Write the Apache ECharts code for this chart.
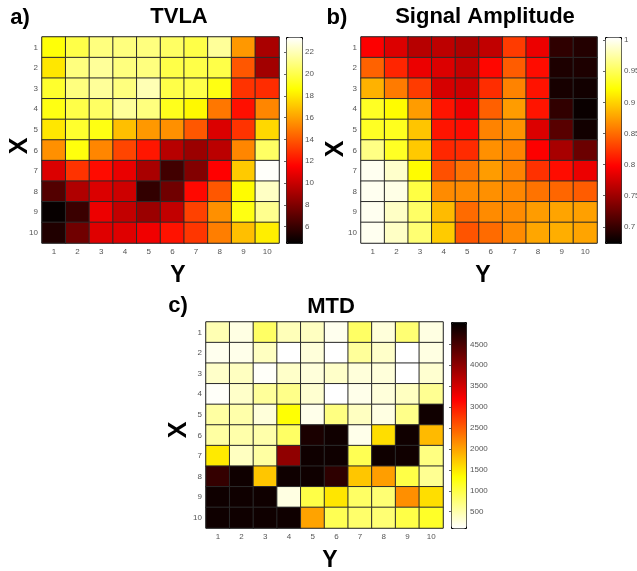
<!DOCTYPE html>
<html><head><meta charset="utf-8">
<script src="https://cdn.jsdelivr.net/npm/echarts@6/dist/echarts.min.js"></script>
<style>html,body{margin:0;padding:0;background:#fff}#c{width:637px;height:571px}</style>
</head><body><div id="c"></div>
<script>
const cats = ['1','2','3','4','5','6','7','8','9','10'];

const tvla = [
  [18.8, 20.0, 21.0, 21.0, 21.0, 20.5, 20.0, 21.5, 15.8, 9.2],
  [18.0, 21.0, 21.5, 21.0, 21.0, 20.0, 20.0, 20.0, 14.0, 9.0],
  [19.5, 21.0, 21.5, 21.0, 22.0, 20.0, 20.0, 19.0, 13.0, 12.8],
  [19.0, 20.0, 20.5, 21.5, 21.0, 19.2, 18.5, 14.9, 12.0, 15.3],
  [18.0, 19.5, 19.0, 16.9, 15.8, 15.6, 14.0, 10.6, 13.0, 17.6],
  [15.6, 18.9, 15.3, 13.5, 12.2, 9.6, 8.8, 9.7, 15.3, 20.5],
  [10.6, 13.0, 11.9, 11.0, 9.2, 6.3, 8.1, 11.6, 17.2, 23.3],
  [6.8, 9.4, 10.6, 10.2, 5.9, 7.6, 11.8, 14.0, 18.6, 22.3],
  [4.7, 6.1, 11.1, 9.9, 8.8, 9.9, 13.4, 15.6, 19.0, 21.3],
  [5.4, 7.6, 10.7, 10.7, 11.2, 12.1, 13.1, 15.1, 16.9, 18.2]
];

const amp = [
  [0.797, 0.781, 0.763, 0.766, 0.759, 0.768, 0.827, 0.789, 0.697, 0.691],
  [0.846, 0.816, 0.789, 0.781, 0.770, 0.801, 0.843, 0.804, 0.688, 0.688],
  [0.885, 0.858, 0.827, 0.778, 0.775, 0.820, 0.862, 0.807, 0.685, 0.683],
  [0.934, 0.921, 0.874, 0.808, 0.790, 0.845, 0.874, 0.808, 0.698, 0.679],
  [0.934, 0.932, 0.894, 0.808, 0.804, 0.862, 0.869, 0.781, 0.717, 0.683],
  [0.965, 0.934, 0.896, 0.817, 0.819, 0.868, 0.862, 0.797, 0.756, 0.726],
  [1.000, 0.988, 0.921, 0.837, 0.854, 0.874, 0.862, 0.822, 0.804, 0.789],
  [1.000, 0.997, 0.944, 0.866, 0.866, 0.868, 0.864, 0.854, 0.848, 0.843],
  [1.000, 0.986, 0.955, 0.889, 0.850, 0.866, 0.866, 0.874, 0.878, 0.876],
  [1.000, 0.986, 0.959, 0.897, 0.839, 0.850, 0.866, 0.879, 0.883, 0.878]
];

const mtd = [
  [480, 247, 860, 450, 410, 190, 860, 290, 790, 250],
  [190, 210, 410, 110, 290, 110, 600, 370, 110, 250],
  [370, 410, 140, 370, 290, 370, 290, 290, 110, 340],
  [140, 370, 600, 680, 340, 110, 210, 290, 410, 640],
  [560, 520, 290, 1325, 210, 720, 410, 250, 680, 4914],
  [560, 520, 520, 860, 4842, 4914, 210, 1582, 4914, 1840],
  [1490, 410, 560, 3990, 4928, 4928, 940, 4928, 4914, 720],
  [4655, 4928, 1750, 4928, 4928, 4700, 1750, 2040, 1000, 640],
  [4928, 4928, 4928, 250, 1000, 1525, 860, 790, 2152, 1582],
  [4928, 4928, 4928, 4928, 2005, 940, 830, 790, 1000, 1150]
];

const tvlaTicks = [6, 8, 10, 12, 14, 16, 18, 20, 22];
const ampTicks = [0.7, 0.75, 0.8, 0.85, 0.9, 0.95, 1];
const mtdTicks = [500, 1000, 1500, 2000, 2500, 3000, 3500, 4000, 4500];

const hot = ['#000000','#550000','#aa0000','#ff0000','#ff5500','#ffaa00','#ffff00','#ffff80','#ffffff'];
const hotRev = hot.slice().reverse();

function toCells(m) {
  const out = [];
  m.forEach((row, i) => row.forEach((v, j) => out.push([j, i, v])));
  return out;
}

const FONT = '"Liberation Sans", Arial, sans-serif';
const heatGrids = [
  {left: 42, top: 37, width: 237, height: 206},
  {left: 361, top: 37, width: 236, height: 206},
  {left: 206, top: 322, width: 237, height: 206}
];
const cbGrids = [
  {left: 286, top: 37, width: 16, height: 206},
  {left: 605, top: 37, width: 16, height: 206},
  {left: 451, top: 322, width: 15, height: 206}
];
const ranges = [[4.5, 23.4], [0.674, 1.005], [110, 5033]];
const tickSets = [tvlaTicks, ampTicks, mtdTicks];
const datasets = [tvla, amp, mtd];
const colorSets = [hot, hot, hotRev];

const grid = [];
const xAxis = [];
const yAxis = [];
const series = [];
const visualMap = [];

heatGrids.forEach((g, k) => {
  grid.push(Object.assign({show: true, borderColor: '#777', borderWidth: 1, backgroundColor: 'transparent',
    containLabel: false, outerBoundsMode: 'none'}, g));
  xAxis.push({type: 'category', gridIndex: k, data: cats,
    axisLine: {show: false}, axisTick: {show: false}, splitLine: {show: false},
    axisLabel: {fontSize: 8, color: '#555', margin: 5, fontFamily: FONT}});
  yAxis.push({type: 'category', gridIndex: k, data: cats, inverse: true,
    axisLine: {show: false}, axisTick: {show: false}, splitLine: {show: false},
    axisLabel: {fontSize: 8, color: '#555', margin: 4, fontFamily: FONT}});
  series.push({type: 'heatmap', xAxisIndex: k, yAxisIndex: k, data: toCells(datasets[k]),
    itemStyle: {borderColor: '#2a2a2a', borderWidth: 1},
    emphasis: {disabled: true}});
});

cbGrids.forEach((g, k) => {
  const gi = 3 + k;
  grid.push(Object.assign({show: false, containLabel: false, outerBoundsMode: 'none'}, g));
  xAxis.push({type: 'value', gridIndex: gi, show: false, min: 0, max: 1});
  yAxis.push({type: 'value', gridIndex: gi, position: 'right',
    min: ranges[k][0], max: ranges[k][1],
    axisLine: {show: false}, splitLine: {show: false},
    axisTick: {show: true, inside: true, length: 2, lineStyle: {color: '#666'}, customValues: tickSets[k]},
    axisLabel: {fontSize: 8, color: '#555', margin: k === 2 ? 4 : 3, fontFamily: FONT, customValues: tickSets[k],
      hideOverlap: false, formatter: v => String(v)}});
  visualMap.push({type: 'continuous', seriesIndex: k, min: ranges[k][0], max: ranges[k][1],
    calculable: false, hoverLink: false, orient: 'vertical', left: g.left, top: g.top,
    itemWidth: g.width, itemHeight: g.height, padding: 0, borderColor: '#000', borderWidth: 1,
    inRange: {color: colorSets[k]}});
});

function txt(text, x, y, size, opts) {
  return Object.assign({type: 'text', x: x, y: y, z: 100,
    style: {text: text, font: 'bold ' + size + 'px ' + FONT, fill: '#000',
      textAlign: 'center', textVerticalAlign: 'middle'}}, opts || {});
}

const graphic = [
  txt('a)', 20, 18, 22),
  txt('TVLA', 179, 17, 22),
  txt('b)', 337, 18, 22),
  txt('Signal Amplitude', 485, 17, 22),
  txt('c)', 178, 306, 22),
  txt('MTD', 331, 307, 22),
  txt('X', 20, 146, 25, {rotation: Math.PI / 2}),
  txt('X', 336, 149, 25, {rotation: Math.PI / 2}),
  txt('X', 179, 430, 25, {rotation: Math.PI / 2}),
  txt('Y', 178, 276, 23),
  txt('Y', 483, 276, 23),
  txt('Y', 330, 561, 23)
];

const chart = echarts.init(document.getElementById('c'), null, {renderer: 'canvas'});
chart.setOption({
  animation: false,
  backgroundColor: '#fff',
  textStyle: {fontFamily: FONT},
  grid: grid, xAxis: xAxis, yAxis: yAxis, visualMap: visualMap, series: series, graphic: graphic
});
</script>
</body></html>
